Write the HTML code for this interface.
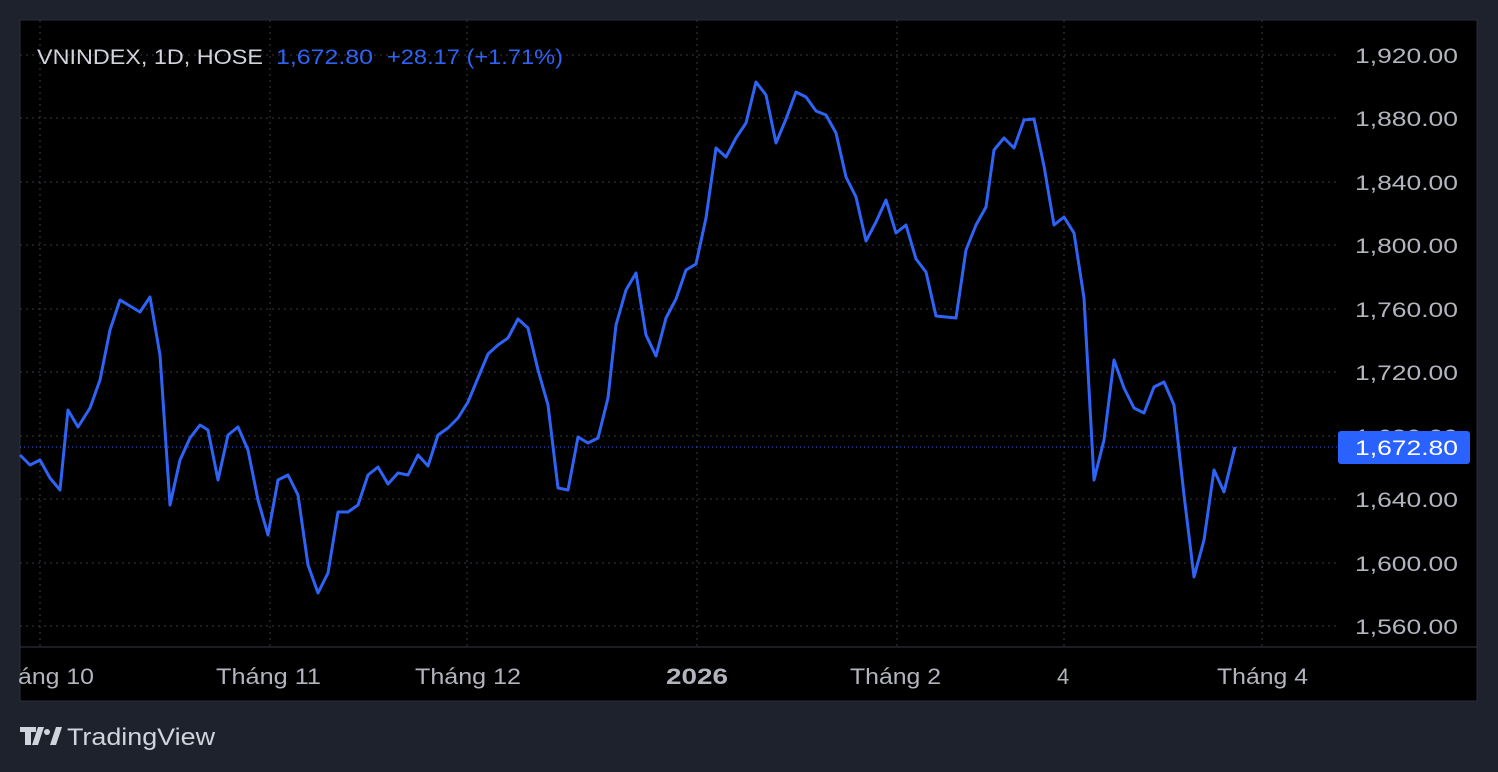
<!DOCTYPE html>
<html><head><meta charset="utf-8"><style>
body{margin:0;width:1498px;height:772px;background:#1e222d;overflow:hidden;font-family:"Liberation Sans",sans-serif}
svg{position:absolute;left:0;top:0}
</style></head><body>
<svg width="1498" height="772" viewBox="0 0 1498 772">
<rect x="20" y="20" width="1457" height="681" fill="#000" stroke="#2a2e39"/>
<g stroke="#363a45" stroke-dasharray="2,4" stroke-width="1">
<line x1="20" x2="1338" y1="55" y2="55"/><line x1="20" x2="1338" y1="118" y2="118"/>
<line x1="20" x2="1338" y1="182" y2="182"/><line x1="20" x2="1338" y1="245" y2="245"/>
<line x1="20" x2="1338" y1="309" y2="309"/><line x1="20" x2="1338" y1="372" y2="372"/>
<line x1="20" x2="1338" y1="436" y2="436"/><line x1="20" x2="1338" y1="499" y2="499"/>
<line x1="20" x2="1338" y1="563" y2="563"/><line x1="20" x2="1338" y1="626" y2="626"/>
<line x1="40" x2="40" y1="20" y2="647"/><line x1="270" x2="270" y1="20" y2="647"/>
<line x1="467" x2="467" y1="20" y2="647"/><line x1="697" x2="697" y1="20" y2="647"/>
<line x1="897" x2="897" y1="20" y2="647"/><line x1="1064" x2="1064" y1="20" y2="647"/>
<line x1="1262" x2="1262" y1="20" y2="647"/>
</g>
<line x1="20" x2="1477" y1="647" y2="647" stroke="#363a45"/>
<line x1="20" x2="1338" y1="447" y2="447" stroke="#2962ff" stroke-dasharray="1,3"/>
<polyline fill="none" stroke="#2e63f5" stroke-width="3" stroke-linejoin="round" points="20,455 30,465 40,460 50,478 60,490 68,410 78,427 90,408 100,380 110,330 120,300 130,306 140,312 150,297 160,355 170,505 180,460 190,438 200,425 208,430 218,480 228,435 238,427 248,450 258,500 268,535 278,480 288,475 298,495 308,565 318,593 328,573 338,512 348,512 358,505 368,475 378,467 388,484 398,473 408,475 418,455 428,466 438,435 448,428 458,418 468,402 478,378 488,354 498,345 508,338 518,319 528,328 538,370 548,405 558,488 568,490 578,437 588,443 598,438 608,398 616,325 626,290 636,273 646,335 656,356 666,318 676,299 686,270 696,264 706,218 716,148 726,157 736,138 746,123 756,82 766,95 776,143 786,119 796,92 806,97 816,111 826,115 836,133 846,177 856,197 866,241 876,222 886,200 896,233 906,225 916,259 926,272 936,316 946,317 956,318 966,250 976,225 986,207 994,150 1004,138 1014,148 1024,120 1034,119 1044,166 1054,225 1064,217 1074,233 1084,298 1094,480 1104,440 1114,360 1124,388 1134,408 1144,413 1154,387 1164,382 1174,405 1184,495 1194,577 1204,540 1214,470 1224,492 1235,447"/>
<g fill="#b2b5be" font-size="21">
<text x="1355" y="63" textLength="103" lengthAdjust="spacingAndGlyphs">1,920.00</text>
<text x="1355" y="126" textLength="103" lengthAdjust="spacingAndGlyphs">1,880.00</text>
<text x="1355" y="190" textLength="103" lengthAdjust="spacingAndGlyphs">1,840.00</text>
<text x="1355" y="253" textLength="103" lengthAdjust="spacingAndGlyphs">1,800.00</text>
<text x="1355" y="317" textLength="103" lengthAdjust="spacingAndGlyphs">1,760.00</text>
<text x="1355" y="380" textLength="103" lengthAdjust="spacingAndGlyphs">1,720.00</text>
<text x="1355" y="444" textLength="103" lengthAdjust="spacingAndGlyphs">1,680.00</text>
<text x="1355" y="507" textLength="103" lengthAdjust="spacingAndGlyphs">1,640.00</text>
<text x="1355" y="571" textLength="103" lengthAdjust="spacingAndGlyphs">1,600.00</text>
<text x="1355" y="634" textLength="103" lengthAdjust="spacingAndGlyphs">1,560.00</text>
</g>
<rect x="1338" y="431" width="132" height="33" rx="3" fill="#2962ff"/>
<text x="1355" y="455" fill="#fff" font-size="21" textLength="103" lengthAdjust="spacingAndGlyphs">1,672.80</text>
<g fill="#b2b5be" font-size="22">
<text x="18" y="684" textLength="76" lengthAdjust="spacingAndGlyphs">áng 10</text>
<text x="216" y="684" textLength="105" lengthAdjust="spacingAndGlyphs">Tháng 11</text>
<text x="415" y="684" textLength="106" lengthAdjust="spacingAndGlyphs">Tháng 12</text>
<text x="666" y="684" font-weight="bold" textLength="62" lengthAdjust="spacingAndGlyphs">2026</text>
<text x="850" y="684" textLength="91" lengthAdjust="spacingAndGlyphs">Tháng 2</text>
<text x="1057" y="684">4</text>
<text x="1217" y="684" textLength="91" lengthAdjust="spacingAndGlyphs">Tháng 4</text>
</g>
<text x="37" y="64" fill="#d1d4dc" font-size="21" textLength="226" lengthAdjust="spacingAndGlyphs">VNINDEX, 1D, HOSE</text>
<text x="276" y="64" fill="#2e63f5" font-size="21" textLength="97" lengthAdjust="spacingAndGlyphs">1,672.80</text>
<text x="387" y="64" fill="#2e63f5" font-size="21" textLength="176" lengthAdjust="spacingAndGlyphs">+28.17 (+1.71%)</text>
<g fill="#d1d4dc">
<path d="M20 727h16v5h-5v13h-6v-13h-5z M38 727h6l-6 18h-6z"/>
<circle cx="47" cy="732" r="3"/>
<path d="M50 745l6-18h6l-6 18z"/>
</g>
<text x="67" y="745" fill="#d1d4dc" font-size="24" textLength="148" lengthAdjust="spacingAndGlyphs">TradingView</text>
</svg>
</body></html>
